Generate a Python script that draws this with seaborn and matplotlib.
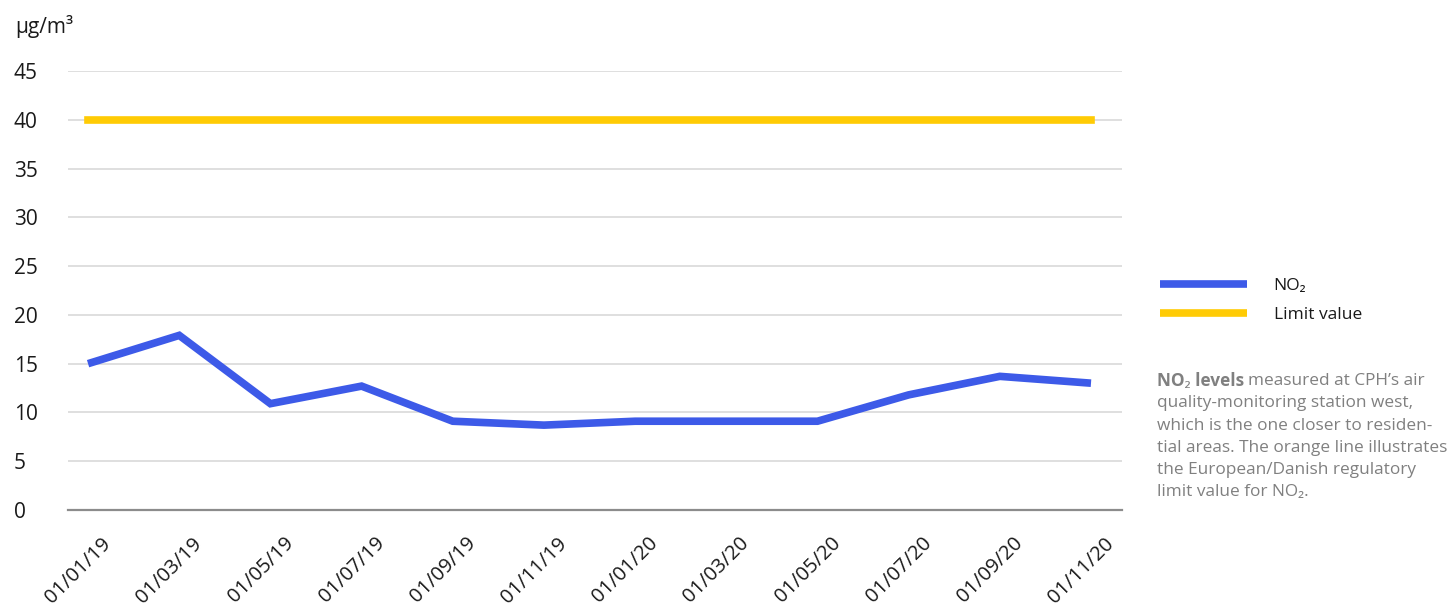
import matplotlib
matplotlib.use("Agg")
import matplotlib.pyplot as plt
import matplotlib.transforms as mtransforms
import seaborn as sns
import pandas as pd

# Bi-monthly NO2 readings at the west air-quality station (µg/m³)
dates = ["01/01/19", "01/03/19", "01/05/19", "01/07/19", "01/09/19", "01/11/19",
         "01/01/20", "01/03/20", "01/05/20", "01/07/20", "01/09/20", "01/11/20"]
no2 = [15.0, 17.9, 10.9, 12.7, 9.1, 8.7, 9.1, 9.1, 9.1, 11.8, 13.7, 13.0]
limit = [40] * len(dates)
series_names = ["NO\u2082", "Limit value"]
yticks = [0, 5, 10, 15, 20, 25, 30, 35, 40, 45]

BLUE = "#3D5AE8"
YELLOW = "#FFCB05"
TEXT = "#1a1a1a"
NOTE = "#808080"

sns.set_theme(style="white")
plt.rcParams["font.family"] = ["Open Sans", "Noto Sans", "DejaVu Sans"]

df = pd.DataFrame({
    "date": dates * 2,
    "value": no2 + limit,
    "series": [series_names[0]] * len(dates) + [series_names[1]] * len(dates),
})

fig = plt.figure(figsize=(14.5, 6.06), dpi=100)
ax = fig.add_axes([68 / 1450, 1 - 510 / 606, (1122 - 68) / 1450, (510 - 71) / 606])

sns.lineplot(data=df, x="date", y="value", hue="series", sort=False,
             palette={series_names[0]: BLUE, series_names[1]: YELLOW},
             linewidth=5.5, ax=ax, legend=True)
for line in ax.get_lines():
    line.set_solid_capstyle("butt")
    line.set_solid_joinstyle("miter")
    line.set_clip_on(False)
ax.get_lines()[1].set_solid_capstyle("projecting")

ax.set_xlim(-0.22, 11.34)
ax.set_ylim(0, 45)
ax.set_yticks(yticks)
ax.set_yticklabels([str(v) for v in yticks])
ax.set_xlabel("")
ax.set_ylabel("")

ax.grid(axis="y", color="#d6d6d6", linewidth=1.1)
ax.grid(axis="x", visible=False)
for side in ("top", "right", "left"):
    ax.spines[side].set_visible(False)
ax.spines["bottom"].set_color("#8c8c8c")
ax.spines["bottom"].set_linewidth(1.6)
ax.set_axisbelow(True)

ax.tick_params(axis="y", length=0, pad=39, labelsize=15, labelcolor=TEXT)
for lbl in ax.get_yticklabels():
    lbl.set_horizontalalignment("left")
ax.tick_params(axis="x", length=0, pad=22, labelsize=14.5, labelcolor=TEXT)
shift = mtransforms.ScaledTranslation(0.2, 0, fig.dpi_scale_trans)
for lbl in ax.get_xticklabels():
    lbl.set_rotation(45)
    lbl.set_horizontalalignment("right")
    lbl.set_verticalalignment("center")
    lbl.set_rotation_mode("anchor")
    lbl.set_transform(lbl.get_transform() + shift)

# unit label
fig.text(15 / 1450, 1 - 26 / 606, "µg/m\u00b3", fontsize=15, color=TEXT,
         ha="left", va="center")

# legend to the right of the plot
leg = ax.legend(loc="upper left", bbox_to_anchor=(1092 / 1054, 1 - (278 - 71) / 439),
                frameon=False, fontsize=12.5, handlelength=5.0, handletextpad=1.55,
                labelspacing=0.72, borderaxespad=0, borderpad=0)
for h in leg.get_lines():
    h.set_linewidth(5.5)
    h.set_solid_capstyle("butt")
for t in leg.get_texts():
    t.set_color(TEXT)

# explanatory note
note_x = 1157 / 1450
line_h = 22.3 / 606
y0 = 1 - 381 / 606
note_size = 12.4
fig.canvas.draw()
bold = fig.text(note_x, y0, "NO\u2082 levels", fontsize=note_size, color=NOTE,
                fontweight="bold", ha="left", va="center")
fig.canvas.draw()
bb = bold.get_window_extent()
fig.text((bb.x1 + 4) / 1450, y0, "measured at CPH\u2019s air", fontsize=note_size,
         color=NOTE, ha="left", va="center")
rest = ["quality-monitoring station west,",
        "which is the one closer to residen-",
        "tial areas. The orange line illustrates",
        "the European/Danish regulatory",
        "limit value for NO\u2082."]
for i, s in enumerate(rest, start=1):
    fig.text(note_x, y0 - i * line_h, s, fontsize=note_size, color=NOTE,
             ha="left", va="center")

fig.savefig("out.png", dpi=100)
